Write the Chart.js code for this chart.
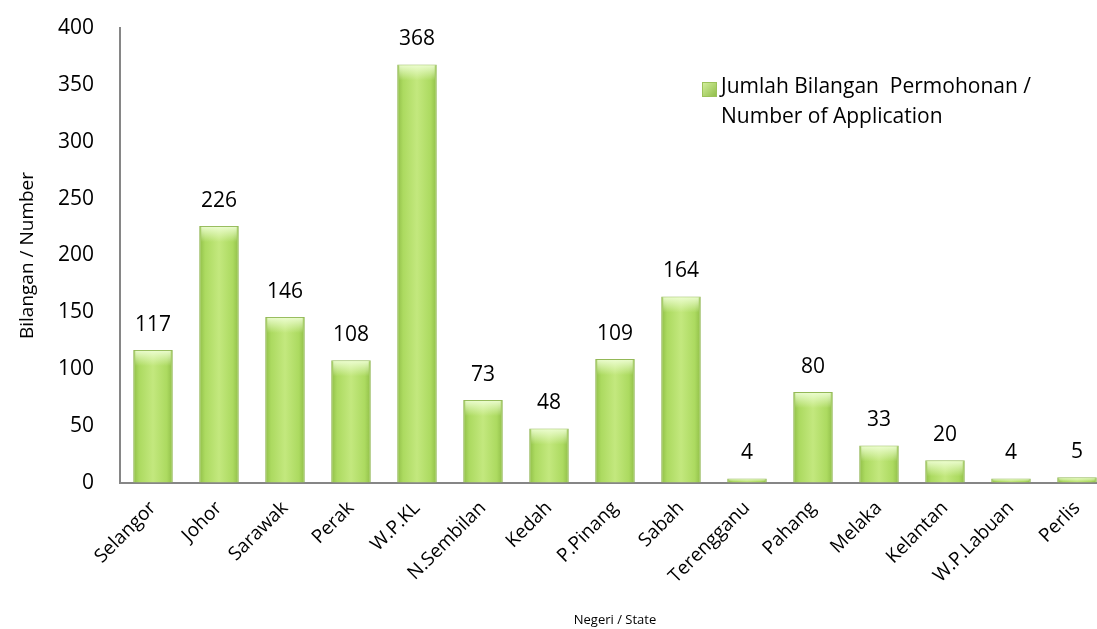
<!DOCTYPE html>
<html>
<head>
<meta charset="utf-8">
<script src="https://cdn.jsdelivr.net/npm/chart.js@4/dist/chart.umd.min.js"></script>
<style>
  html, body { margin: 0; padding: 0; background: #fff; overflow: hidden; }
  #wrap { width: 1097px; height: 629px; overflow: hidden; }
</style>
</head>
<body>
<div id="wrap"><canvas id="bar-chart" width="1110" height="629"></canvas></div>
<script>
const states = ['Selangor', 'Johor', 'Sarawak', 'Perak', 'W.P.KL', 'N.Sembilan', 'Kedah',
  'P.Pinang', 'Sabah', 'Terengganu', 'Pahang', 'Melaka', 'Kelantan', 'W.P.Labuan', 'Perlis'];
const applications = [117, 226, 146, 108, 368, 73, 48, 109, 164, 4, 80, 33, 20, 4, 5];
const legendLines = ['Jumlah Bilangan  Permohonan /', 'Number of Application'];
const yTitle = 'Bilangan / Number';
const xTitle = 'Negeri / State';

const FONT = "'Open Sans', 'DejaVu Sans', sans-serif";
const axisGrey = '#868686';

// horizontal gradient across each bar, darker at the edges
function barFill(context) {
  const chart = context.chart;
  const x = chart.scales && chart.scales.x;
  if (!x || context.dataIndex === undefined) return '#b3de68';
  const cx = x.getPixelForValue(context.dataIndex);
  const half = (x.width / states.length) * 0.6 / 2;
  if (!isFinite(cx) || !isFinite(half) || half <= 0) return '#b3de68';
  const g = chart.ctx.createLinearGradient(cx - half, 0, cx + half, 0);
  g.addColorStop(0, '#90be48');
  g.addColorStop(0.15, '#acda60');
  g.addColorStop(0.5, '#c3e87e');
  g.addColorStop(0.85, '#acda60');
  g.addColorStop(1, '#90be48');
  return g;
}

// pale sheen on top of each bar + value labels above
const barExtras = {
  id: 'barExtras',
  afterDatasetsDraw(chart) {
    const ctx = chart.ctx;
    const meta = chart.getDatasetMeta(0);
    ctx.save();
    meta.data.forEach((bar, i) => {
      const left = bar.x - bar.width / 2 + 2;
      const w = bar.width - 4;
      const h = Math.min(16, bar.base - bar.y - 1);
      if (h > 1) {
        const g = ctx.createLinearGradient(0, bar.y, 0, bar.y + h);
        g.addColorStop(0, 'rgba(240,255,215,0.95)');
        g.addColorStop(1, 'rgba(240,255,215,0)');
        ctx.fillStyle = g;
        ctx.fillRect(left, bar.y + 1, w, h);
      }
      ctx.fillStyle = '#000';
      ctx.font = '21px ' + FONT;
      ctx.textAlign = 'center';
      ctx.textBaseline = 'middle';
      ctx.fillText(String(applications[i]), bar.x, bar.y - 25);
    });
    ctx.restore();
  }
};

// two-line legend inside the plot
const legendBox = {
  id: 'legendBox',
  afterDraw(chart) {
    const ctx = chart.ctx;
    ctx.save();
    const g = ctx.createLinearGradient(702, 82, 717, 97);
    g.addColorStop(0, '#d6f1a0');
    g.addColorStop(1, '#8dbb46');
    ctx.fillStyle = g;
    ctx.fillRect(702, 82, 15, 15);
    ctx.strokeStyle = '#9cc25a';
    ctx.strokeRect(702.5, 82.5, 14, 14);
    ctx.fillStyle = '#000';
    ctx.font = '21px ' + FONT;
    ctx.textAlign = 'left';
    ctx.textBaseline = 'middle';
    ctx.fillText(legendLines[0], 721, 87);
    ctx.fillText(legendLines[1], 721, 117);
    ctx.restore();
  }
};

new Chart(document.getElementById('bar-chart').getContext('2d'), {
  type: 'bar',
  data: {
    labels: states,
    datasets: [{
      label: legendLines.join(' '),
      data: applications,
      backgroundColor: barFill,
      borderColor: '#93b857',
      borderWidth: 1,
      categoryPercentage: 1,
      barPercentage: 0.6
    }]
  },
  options: {
    responsive: false,
    animation: false,
    layout: { padding: { top: 28, left: 0, right: 0, bottom: 0 } },
    plugins: {
      legend: { display: false },
      tooltip: { enabled: false }
    },
    scales: {
      x: {
        grid: { display: true, drawOnChartArea: false, drawTicks: true, tickLength: 14, color: 'rgba(0,0,0,0)' },
        border: { color: axisGrey, width: 2 },
        ticks: {
          color: '#000',
          font: { family: FONT, size: 19 },
          minRotation: 45,
          maxRotation: 45,
          autoSkip: false,
          padding: 0
        },
        title: {
          display: true,
          text: xTitle,
          color: '#000',
          font: { family: FONT, size: 13 },
          padding: { top: 0, bottom: 1 }
        },
        afterFit(scale) { scale.height = 146; }
      },
      y: {
        min: 0,
        max: 400,
        grid: { display: true, drawOnChartArea: false, drawTicks: true, tickLength: 26, color: 'rgba(0,0,0,0)' },
        border: { color: axisGrey, width: 2 },
        ticks: {
          stepSize: 50,
          color: '#000',
          font: { family: FONT, size: 21 },
          padding: 0
        },
        title: {
          display: true,
          text: yTitle,
          color: '#000',
          font: { family: FONT, size: 19 },
          padding: { top: 16, bottom: 0 }
        },
        afterFit(scale) { scale.width = 120; }
      }
    }
  },
  plugins: [barExtras, legendBox]
});
</script>
</body>
</html>
